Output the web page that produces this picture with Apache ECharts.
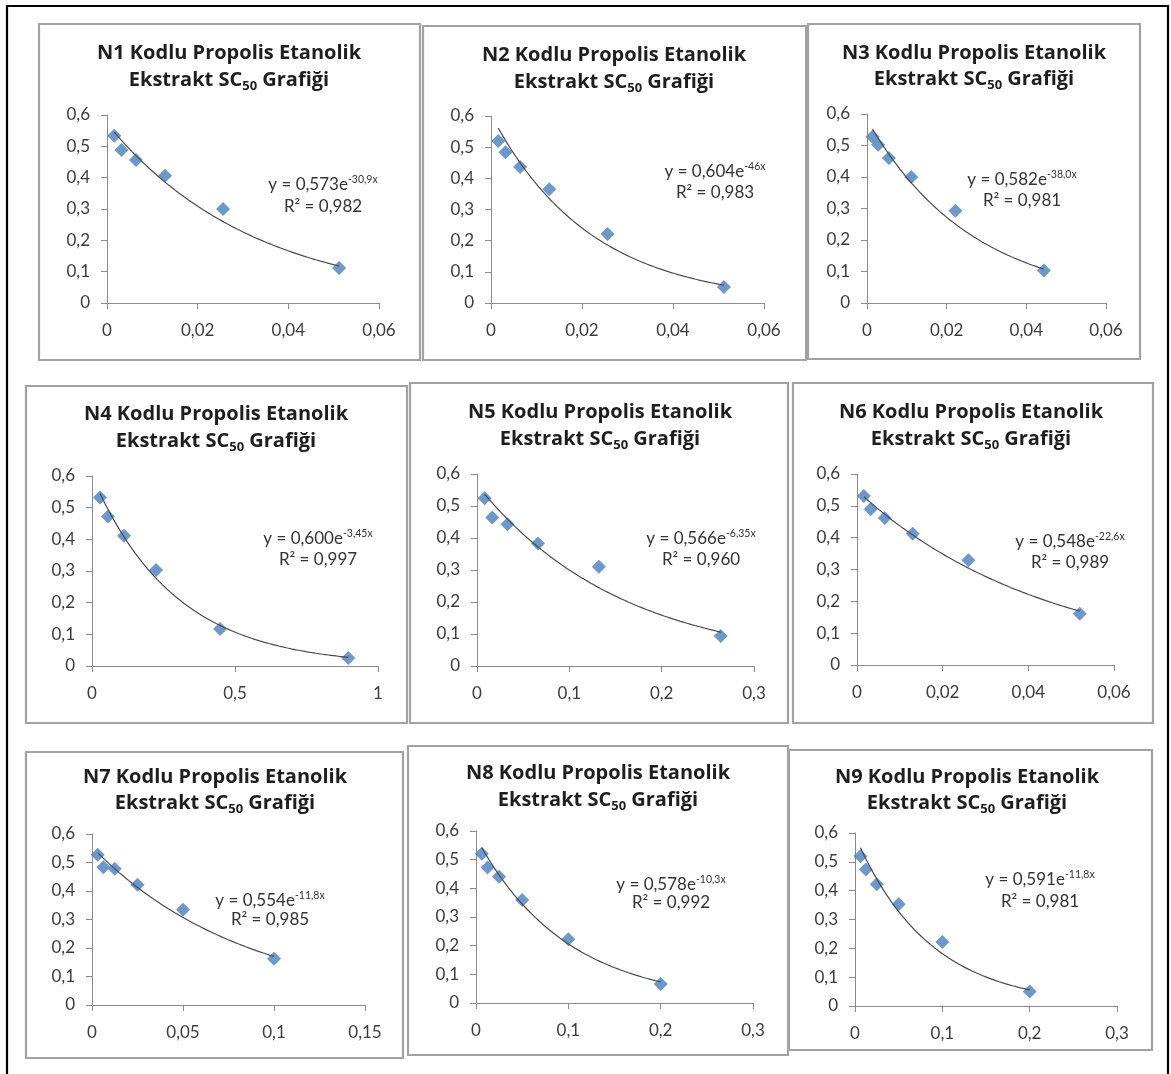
<!DOCTYPE html>
<html>
<head>
<meta charset="utf-8">
<script src="https://cdn.jsdelivr.net/npm/echarts@6/dist/echarts.min.js"></script>
<style>
html,body{margin:0;padding:0;background:#ffffff;}
#chart{width:1171px;height:1074px;}
</style>
</head>
<body>
<div id="chart"></div>
<script>
// ---------------- DATA ----------------
const panelCodes = ['N1', 'N2', 'N3', 'N4', 'N5', 'N6', 'N7', 'N8', 'N9'];

const xN1 = [0.0016, 0.0032, 0.0064, 0.0128, 0.0256, 0.0512];
const yN1 = [0.534, 0.488, 0.456, 0.406, 0.300, 0.112];

const xN2 = [0.0016, 0.0032, 0.0064, 0.0128, 0.0256, 0.0512];
const yN2 = [0.520, 0.484, 0.436, 0.365, 0.221, 0.051];

const xN3 = [0.0014, 0.0028, 0.0055, 0.0111, 0.0222, 0.0444];
const yN3 = [0.528, 0.502, 0.460, 0.400, 0.293, 0.103];

const xN4 = [0.028, 0.056, 0.112, 0.224, 0.448, 0.896];
const yN4 = [0.532, 0.472, 0.411, 0.303, 0.117, 0.025];

const xN5 = [0.00825, 0.0165, 0.033, 0.066, 0.132, 0.264];
const yN5 = [0.524, 0.464, 0.443, 0.383, 0.310, 0.094];

const xN6 = [0.0016, 0.0032, 0.0065, 0.013, 0.026, 0.052];
const yN6 = [0.531, 0.489, 0.462, 0.412, 0.329, 0.161];

const xN7 = [0.003125, 0.00625, 0.0125, 0.025, 0.05, 0.1];
const yN7 = [0.527, 0.483, 0.478, 0.422, 0.334, 0.162];

const xN8 = [0.00625, 0.0125, 0.025, 0.05, 0.1, 0.2];
const yN8 = [0.521, 0.473, 0.440, 0.359, 0.222, 0.066];

const xN9 = [0.00625, 0.0125, 0.025, 0.05, 0.1, 0.2];
const yN9 = [0.519, 0.473, 0.422, 0.353, 0.222, 0.050];

const xValues = [xN1, xN2, xN3, xN4, xN5, xN6, xN7, xN8, xN9];
const yValues = [yN1, yN2, yN3, yN4, yN5, yN6, yN7, yN8, yN9];

// Exponential trendline coefficients as printed on each chart: y = a * e^(b x)
const trendA = [0.573, 0.604, 0.582, 0.600, 0.566, 0.548, 0.554, 0.578, 0.591];
const trendB = [-30.9, -46, -38.0, -3.45, -6.35, -22.6, -11.8, -10.3, -11.8];
const coefText = ['0,573', '0,604', '0,582', '0,600', '0,566', '0,548', '0,554', '0,578', '0,591'];
const expText = ['-30,9x', '-46x', '-38,0x', '-3,45x', '-6,35x', '-22,6x', '-11,8x', '-10,3x', '-11,8x'];
const r2Text = ['0,982', '0,983', '0,981', '0,997', '0,960', '0,989', '0,985', '0,992', '0,981'];

// Axis ranges / ticks
const xAxisMax = [0.06, 0.06, 0.06, 1, 0.3, 0.06, 0.15, 0.3, 0.3];
const xAxisInterval = [0.02, 0.02, 0.02, 0.5, 0.1, 0.02, 0.05, 0.1, 0.1];
const yAxisMax = 0.6;
const yAxisInterval = 0.1;

// ---------------- LAYOUT (pixels) ----------------
const panelBox = [
  [39, 24, 381, 336], [423, 26, 383, 334], [808, 24, 332, 335],
  [26, 386, 381, 337], [410, 383, 378, 340], [793, 383, 360, 340],
  [26, 752, 377, 306], [408, 746, 380, 309], [789, 750, 363, 300]
];
const gridBox = [
  [107, 115, 272, 188], [491, 116, 273, 187], [867, 114, 239, 189],
  [92, 476, 286, 190], [477, 474, 277, 192], [857, 474, 257, 191],
  [92, 834, 273, 171], [476, 831, 277, 172], [855, 833, 262, 173]
];
const titlePos = [
  [229, 53, 80], [614, 55, 82], [974, 53, 79],
  [216, 414, 441], [600, 412, 439], [971, 412, 439],
  [215, 777, 803], [598, 773, 800], [967, 777, 803]
];
const eqPos = [
  [323, 185, 207], [715, 172, 193], [1022, 180, 201],
  [318, 539, 560], [701, 539, 560], [1070, 542, 563],
  [270, 901, 920], [671, 885, 903], [1040, 880, 902]
];

// ---------------- BUILD ----------------
const FONT = 'Lato, "Open Sans", sans-serif';
const TITLE_FONT = '"Open Sans", Lato, sans-serif';
const fmt = v => String(Math.round(v * 1000) / 1000).replace('.', ',');

const grids = [], xAxes = [], yAxes = [], series = [], graphics = [];

graphics.push({
  type: 'rect', z: 100, silent: true,
  shape: { x: 7, y: 6, width: 1161, height: 1100 },
  style: { fill: 'none', stroke: '#000000', lineWidth: 2.2 }
});

panelCodes.forEach((code, i) => {
  const g = gridBox[i];
  grids.push({ left: g[0], top: g[1], width: g[2], height: g[3], containLabel: false });

  const axisColor = '#8a8a8a';
  xAxes.push({
    type: 'value', gridIndex: i, min: 0, max: xAxisMax[i], interval: xAxisInterval[i],
    axisLine: { show: true, onZero: false, lineStyle: { color: axisColor, width: 1 } },
    axisTick: { show: true, length: 6, lineStyle: { color: axisColor, width: 1 } },
    splitLine: { show: false },
    axisLabel: { margin: 19, fontSize: 17, fontFamily: FONT, color: '#3c3c3c', formatter: fmt }
  });
  yAxes.push({
    type: 'value', gridIndex: i, min: 0, max: yAxisMax, interval: yAxisInterval,
    axisLine: { show: true, onZero: false, lineStyle: { color: axisColor, width: 1 } },
    axisTick: { show: true, length: 6, lineStyle: { color: axisColor, width: 1 } },
    splitLine: { show: false },
    axisLabel: { margin: 17, fontSize: 17, fontFamily: FONT, color: '#3c3c3c', formatter: fmt }
  });

  const xs = xValues[i], ys = yValues[i];
  series.push({
    type: 'scatter', xAxisIndex: i, yAxisIndex: i, z: 2,
    symbol: 'diamond', symbolSize: 14,
    itemStyle: { color: '#4a7ebb' },
    data: xs.map((x, j) => [x, ys[j]])
  });

  // trendline drawn from the printed equation, over the range of the data
  const lo = Math.min(...xs), hi = Math.max(...xs);
  const curve = [];
  const steps = 100;
  for (let k = 0; k <= steps; k++) {
    const x = lo + (hi - lo) * k / steps;
    curve.push([x, trendA[i] * Math.exp(trendB[i] * x)]);
  }
  series.push({
    type: 'line', xAxisIndex: i, yAxisIndex: i, z: 3,
    showSymbol: false, symbol: 'none', silent: true,
    lineStyle: { color: '#4a4a4a', width: 1.2 },
    data: curve
  });

  // panel border
  const b = panelBox[i];
  graphics.push({
    type: 'rect', z: 50, silent: true,
    shape: { x: b[0], y: b[1], width: b[2], height: b[3] },
    style: { fill: 'none', stroke: '#a2a2a2', lineWidth: 2.2 }
  });

  // titles
  const t = titlePos[i];
  graphics.push({
    type: 'text', z: 60, silent: true, x: t[0], y: t[1],
    style: {
      text: code + ' Kodlu Propolis Etanolik',
      fontSize: 20, fontFamily: TITLE_FONT, fontWeight: 'bold', fill: '#1e1e1e',
      align: 'center', verticalAlign: 'middle'
    }
  });
  graphics.push({
    type: 'text', z: 60, silent: true, x: t[0], y: t[2],
    style: {
      text: 'Ekstrakt SC{sub|50} Grafiği',
      fontSize: 20, fontFamily: TITLE_FONT, fontWeight: 'bold', fill: '#1e1e1e', lineHeight: 26,
      align: 'center', verticalAlign: 'middle',
      rich: {
        sub: { fontSize: 13, fontFamily: TITLE_FONT, fontWeight: 'bold', fill: '#1e1e1e', lineHeight: 14, verticalAlign: 'bottom' }
      }
    }
  });

  // trendline equation and R²
  const e = eqPos[i];
  graphics.push({
    type: 'text', z: 60, silent: true, x: e[0], y: e[1],
    style: {
      text: 'y = ' + coefText[i] + 'e{sup|' + expText[i] + '}',
      fontSize: 17, fontFamily: FONT, fill: '#333333', lineHeight: 22,
      align: 'center', verticalAlign: 'middle',
      rich: {
        sup: { fontSize: 10.5, fontFamily: FONT, fill: '#333333', lineHeight: 11, verticalAlign: 'top' }
      }
    }
  });
  graphics.push({
    type: 'text', z: 60, silent: true, x: e[0], y: e[2],
    style: {
      text: 'R² = ' + r2Text[i],
      fontSize: 17, fontFamily: FONT, fill: '#333333',
      align: 'center', verticalAlign: 'middle'
    }
  });
});

const chart = echarts.init(document.getElementById('chart'), null, { renderer: 'canvas' });
chart.setOption({
  backgroundColor: '#ffffff',
  animation: false,
  grid: grids,
  xAxis: xAxes,
  yAxis: yAxes,
  series: series,
  graphic: graphics
});
</script>
</body>
</html>
